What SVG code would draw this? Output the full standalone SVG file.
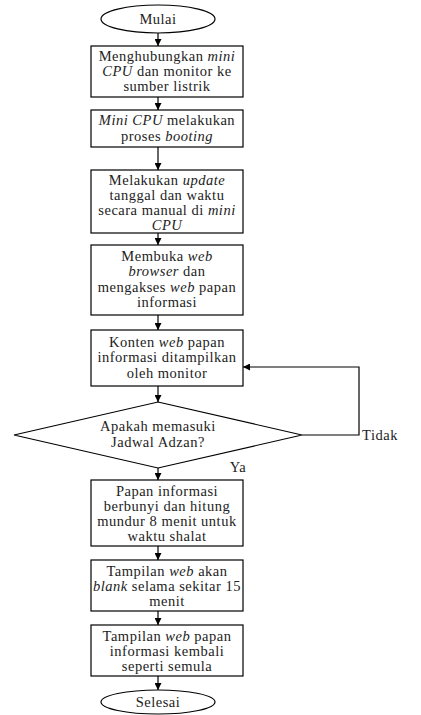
<svg xmlns="http://www.w3.org/2000/svg" width="421" height="715" viewBox="0 0 421 715">
<defs>
<marker id="ah" viewBox="0 0 10 10" refX="10" refY="5" markerWidth="7" markerHeight="7" orient="auto" markerUnits="userSpaceOnUse"><path d="M0,0 L10,5 L0,10 z" fill="#000"/></marker>
</defs>
<style>
.n{fill:#fff;stroke:#000;stroke-width:1.2}
.t{font-family:"Liberation Serif","DejaVu Serif","Times New Roman",serif;font-size:14.5px;letter-spacing:0.5px;fill:#222;text-anchor:middle}
.i{font-style:italic}
.c{fill:none;stroke:#000;stroke-width:1.2;marker-end:url(#ah)}
</style>
<rect width="421" height="715" fill="#fff"/>
<g id="connectors">
<line class="c" x1="158" y1="33" x2="158" y2="46"/>
<line class="c" x1="158" y1="97" x2="158" y2="110"/>
<line class="c" x1="158" y1="147" x2="158" y2="170"/>
<line class="c" x1="158" y1="233" x2="158" y2="245"/>
<line class="c" x1="158" y1="315" x2="158" y2="330"/>
<line class="c" x1="158" y1="386" x2="158" y2="402"/>
<polyline class="c" points="302,435 359,435 359,367 243,367"/>
<line class="c" x1="158" y1="468" x2="158" y2="480"/>
<line class="c" x1="158" y1="546" x2="158" y2="560"/>
<line class="c" x1="158" y1="611" x2="158" y2="625"/>
<line class="c" x1="158" y1="676" x2="158" y2="690"/>
</g>
<g id="mulai"><ellipse class="n" cx="158" cy="19" rx="57" ry="14"/><text class="t" x="158" y="24">Mulai</text></g>
<g id="n1"><rect class="n" x="91" y="46" width="152" height="51"/>
<text class="t" x="167" y="61">Menghubungkan <tspan class="i">mini</tspan></text>
<text class="t" x="167" y="76"><tspan class="i">CPU</tspan> dan monitor ke</text>
<text class="t" x="167" y="91">sumber listrik</text></g>
<g id="n2"><rect class="n" x="91" y="110" width="152" height="37"/>
<text class="t" x="167" y="125"><tspan class="i">Mini CPU</tspan> melakukan</text>
<text class="t" x="167" y="141">proses <tspan class="i">booting</tspan></text></g>
<g id="n3"><rect class="n" x="91" y="170" width="152" height="63"/>
<text class="t" x="167" y="185">Melakukan <tspan class="i">update</tspan></text>
<text class="t" x="167" y="200">tanggal dan waktu</text>
<text class="t" x="167" y="215">secara manual di <tspan class="i">mini</tspan></text>
<text class="t" x="167" y="230"><tspan class="i">CPU</tspan></text></g>
<g id="n4"><rect class="n" x="91" y="245" width="152" height="70"/>
<text class="t" x="167" y="261">Membuka <tspan class="i">web</tspan></text>
<text class="t" x="167" y="276"><tspan class="i">browser</tspan> dan</text>
<text class="t" x="167" y="292">mengakses <tspan class="i">web</tspan> papan</text>
<text class="t" x="167" y="307">informasi</text></g>
<g id="n5"><rect class="n" x="91" y="330" width="152" height="56"/>
<text class="t" x="167" y="347">Konten <tspan class="i">web</tspan> papan</text>
<text class="t" x="167" y="362">informasi ditampilkan</text>
<text class="t" x="167" y="378">oleh monitor</text></g>
<g id="d1"><polygon class="n" points="158,402 302,435 158,468 14,435"/>
<text class="t" x="158" y="431">Apakah memasuki</text>
<text class="t" x="158" y="447">Jadwal Adzan?</text></g>
<text class="t" x="380" y="440">Tidak</text>
<text class="t" x="238" y="472">Ya</text>
<g id="n6"><rect class="n" x="91" y="480" width="152" height="66"/>
<text class="t" x="167" y="496">Papan informasi</text>
<text class="t" x="167" y="511">berbunyi dan hitung</text>
<text class="t" x="167" y="526">mundur 8 menit untuk</text>
<text class="t" x="167" y="541">waktu shalat</text></g>
<g id="n7"><rect class="n" x="91" y="560" width="152" height="51"/>
<text class="t" x="167" y="576">Tampilan <tspan class="i">web</tspan> akan</text>
<text class="t" x="167" y="591"><tspan class="i">blank</tspan> selama sekitar 15</text>
<text class="t" x="167" y="606">menit</text></g>
<g id="n8"><rect class="n" x="91" y="625" width="152" height="51"/>
<text class="t" x="167" y="641">Tampilan <tspan class="i">web</tspan> papan</text>
<text class="t" x="167" y="656">informasi kembali</text>
<text class="t" x="167" y="671">seperti semula</text></g>
<g id="selesai"><ellipse class="n" cx="158" cy="702" rx="57" ry="12"/><text class="t" x="158" y="707">Selesai</text></g>
</svg>
